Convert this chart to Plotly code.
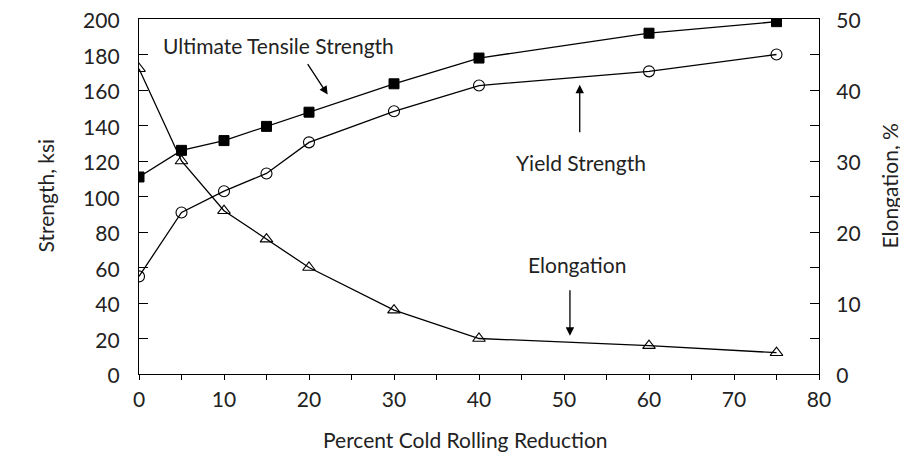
import plotly.graph_objects as go

reduction = [0, 5, 10, 15, 20, 30, 40, 60, 75]
uts = [111, 126, 131.5, 139.5, 147.5, 163.5, 178, 192, 198.5]
yield_strength = [55, 91, 103, 113, 130.5, 148, 162.5, 170.5, 180]
elongation = [43, 30, 23, 19, 15, 9, 5, 4, 3]

FONT = "Lato"
INK = "#222222"

fig = go.Figure()
fig.add_trace(go.Scatter(x=reduction, y=uts, mode="lines+markers",
                         line=dict(color="black", width=1.3),
                         marker=dict(symbol="square", size=10, color="black",
                                     line=dict(color="black", width=1))))
fig.add_trace(go.Scatter(x=reduction, y=yield_strength, mode="lines+markers",
                         line=dict(color="black", width=1.3),
                         marker=dict(symbol="circle-open", size=11, color="black",
                                     line=dict(width=1.1))))
fig.add_trace(go.Scatter(x=reduction, y=elongation, mode="lines+markers", yaxis="y2",
                         line=dict(color="black", width=1.3),
                         marker=dict(symbol="triangle-up-open", size=11, color="black",
                                     line=dict(width=1.1))))

fig.update_layout(
    width=908, height=466,
    margin=dict(l=131, r=97, t=11, b=100, autoexpand=False),
    paper_bgcolor="white", plot_bgcolor="white",
    showlegend=False,
    font=dict(family=FONT, size=21, color=INK),
    xaxis=dict(range=[0, 80], dtick=10, showgrid=False, zeroline=False,
               automargin=False,
               showline=True, linecolor="black", linewidth=1.3, mirror=True,
               ticks="outside", ticklen=5, tickcolor="black",
               minor=dict(dtick=5, ticks="outside", ticklen=5, tickcolor="black"),
               ticklabelstandoff=2),
    yaxis=dict(range=[0, 200], dtick=20, showgrid=False, zeroline=False,
               automargin=False, ticklabeloverflow="allow",
               showline=True, linecolor="black", linewidth=1.3,
               ticks="inside", ticklen=9, tickcolor="black",
               ticklabelstandoff=14, ticklabelshift=2),
    yaxis2=dict(range=[0, 50], dtick=10, overlaying="y", side="right",
                showgrid=False, zeroline=False, automargin=False,
                ticklabeloverflow="allow",
                showline=True, linecolor="black", linewidth=1.3,
                ticks="inside", ticklen=9, tickcolor="black",
                minor=dict(dtick=5, ticks="inside", ticklen=9, tickcolor="black"),
                ticklabelstandoff=12, ticklabelshift=2),
)

# axis titles
fig.add_annotation(xref="paper", yref="paper", x=(457-131)/680, y=(366-446)/355,
                   text="Percent Cold Rolling Reduction", showarrow=False,
                   font=dict(size=21, color=INK))
fig.add_annotation(xref="paper", yref="paper", x=(22-131)/680, y=(366-187)/355,
                   text="Strength, ksi", textangle=-90, showarrow=False,
                   font=dict(size=21, color=INK))
fig.add_annotation(xref="paper", yref="paper", x=(895-131)/680, y=(366-178)/355,
                   text="Elongation, %", textangle=-90, showarrow=False,
                   font=dict(size=21, color=INK))

# text labels
fig.add_annotation(x=16.4, y=185, text="Ultimate Tensile Strength", showarrow=False,
                   font=dict(size=21, color=INK))
fig.add_annotation(x=52.0, y=119, text="Yield Strength", showarrow=False,
                   font=dict(size=21, color=INK))
fig.add_annotation(x=51.5, y=61.5, text="Elongation", showarrow=False,
                   font=dict(size=21, color=INK))

# arrows
arrow = dict(text="", showarrow=True, arrowhead=2, arrowsize=1.3, arrowwidth=1.3,
             arrowcolor="black")
fig.add_annotation(x=22.2, y=157.4, ax=-21, ay=-32, **arrow)
fig.add_annotation(x=51.85, y=163, ax=0, ay=49, **arrow)
fig.add_annotation(x=50.7, y=5.4, xref="x", yref="y2", ax=0, ay=-47, **arrow)

fig.write_html("out.html")
